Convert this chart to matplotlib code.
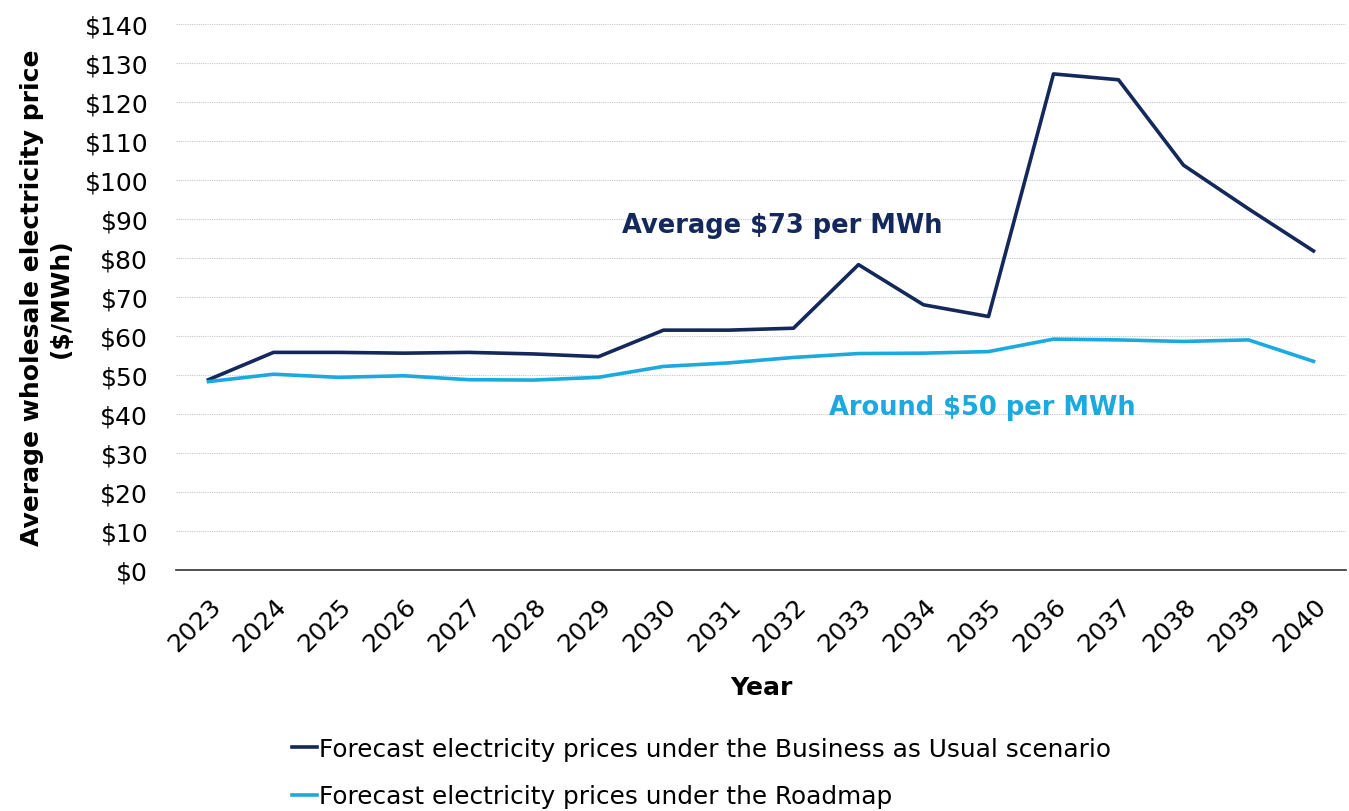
import matplotlib.pyplot as plt
import matplotlib.transforms as mtransforms
from matplotlib.ticker import FuncFormatter

# pyright: reportUnknownMemberType=false

years = list(range(2023, 2041))
bau_prices = [48.8, 55.8, 55.8, 55.6, 55.8, 55.4, 54.7, 61.5, 61.5, 62.0,
              78.3, 68.0, 65.0, 127.2, 125.7, 103.8, 92.6, 81.8]
roadmap_prices = [48.3, 50.2, 49.4, 49.8, 48.8, 48.7, 49.4, 52.2, 53.1, 54.5,
                  55.5, 55.6, 56.0, 59.2, 59.0, 58.6, 59.0, 53.5]

bau_label = "Forecast electricity prices under the Business as Usual scenario"
roadmap_label = "Forecast electricity prices under the Roadmap"

NAVY = "#14285c"
CYAN = "#1ba9e0"

plt.rcParams["font.family"] = ["DejaVu Sans"]

fig = plt.figure(figsize=(13.49, 8.12), dpi=100)
ax = fig.add_axes((176 / 1349, 1 - 571 / 812, 1170 / 1349, 546 / 812))

ax.plot(years, bau_prices, color=NAVY, linewidth=2.6, label=bau_label)
ax.plot(years, roadmap_prices, color=CYAN, linewidth=2.6, label=roadmap_label)

ax.set_xlim(2022.5, 2040.5)
ax.set_ylim(0, 140)
ax.set_yticks(range(0, 141, 10))
ax.yaxis.set_major_formatter(FuncFormatter(lambda v, _: f"${v:.0f}"))
ax.set_xticks(years)
ax.set_xticklabels([str(y) for y in years], rotation=45, ha="right",
                   rotation_mode="anchor", fontsize=18)
# nudge the slanted year labels a little to the left, like the original
shift = mtransforms.ScaledTranslation(-7 / 100, 0, fig.dpi_scale_trans)
for lbl in ax.get_xticklabels():
    lbl.set_transform(lbl.get_transform() + shift)
ax.tick_params(axis="x", length=0, pad=17)
ax.tick_params(axis="y", length=0, pad=20, labelsize=18)

ax.grid(axis="y", color="#c8c8c8", linestyle=(0, (1, 1)), linewidth=0.8)
ax.set_axisbelow(True)
for side in ("top", "right", "left"):
    ax.spines[side].set_visible(False)
ax.spines["bottom"].set_color("#333333")
ax.spines["bottom"].set_linewidth(1.2)

ax.set_ylabel("Average wholesale electricity price\n($/MWh)", fontsize=18,
              fontweight="bold", labelpad=8, linespacing=1.3)
ax.set_xlabel("Year", fontsize=18, fontweight="bold", labelpad=14)

ax.text(2031.83, 88.5, "Average $73 per MWh", color=NAVY, fontsize=18.5,
        fontweight="bold", ha="center", va="center")
ax.text(2034.9, 41.8, "Around $50 per MWh", color=CYAN, fontsize=18.5,
        fontweight="bold", ha="center", va="center")

fig.legend(loc="upper left", bbox_to_anchor=(282 / 1349, 1 - 728 / 812),
           frameon=False, fontsize=17.8, handlelength=1.0, handletextpad=0.1,
           labelspacing=0.95, borderaxespad=0)

fig.savefig("out.png", dpi=100)
